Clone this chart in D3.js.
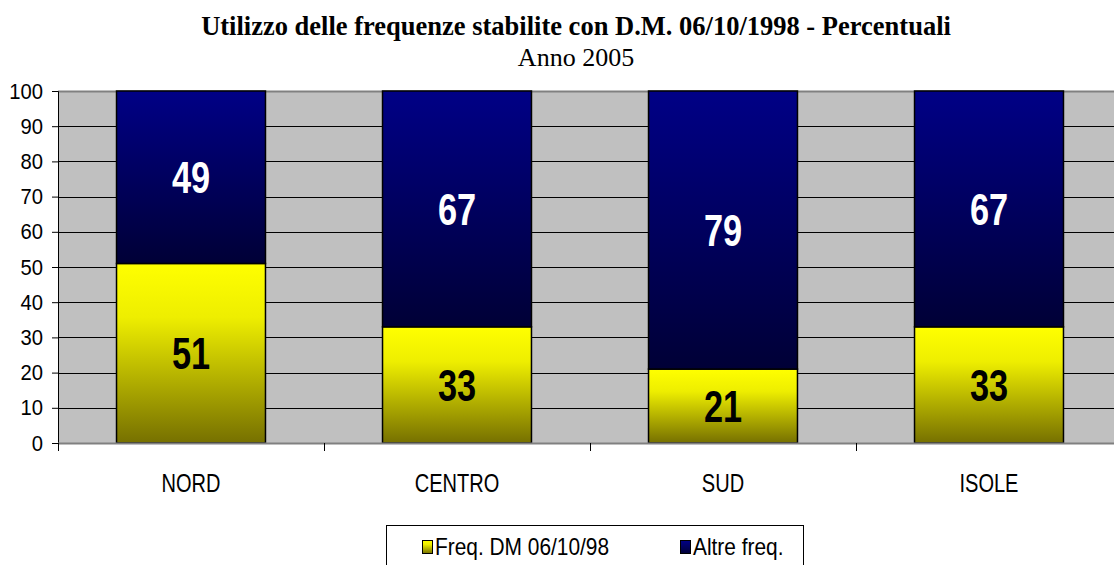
<!DOCTYPE html>
<html>
<head>
<meta charset="utf-8">
<script src="https://cdn.jsdelivr.net/npm/d3@7"></script>
<style>
  body { margin: 0; background: #fff; }
  svg { display: block; }
</style>
</head>
<body>
<figure style="margin:0"></figure>
<script>
// data
const categories = ["NORD", "CENTRO", "SUD", "ISOLE"]
const seriesNames = ["Freq. DM 06/10/98", "Altre freq."]
const freqDM = [51, 33, 21, 33]
const altreFreq = [49, 67, 79, 67]
const yTicks = [0, 10, 20, 30, 40, 50, 60, 70, 80, 90, 100]

const svgWidth = 1114
const svgHeight = 565
const margin = { left: 58, top: 91, right: -8, bottom: 122 }
const width = svgWidth - margin.left - margin.right
const height = svgHeight - margin.top - margin.bottom

const sans = "'Liberation Sans', Arial, sans-serif"
const serif = "'Liberation Serif', 'Times New Roman', serif"

// the original uses a condensed face, so squeeze text horizontally
function squish(sel, k, px, py) {
  sel.attr('transform', (d, i) => `translate(${px(d, i)},${py(d, i)}) scale(${k},1)`)
}

const svg = d3.select('figure')
  .append('svg')
  .attr('width', svgWidth)
  .attr('height', svgHeight)

// gradients
const defs = svg.append('defs')
const gradYellow = defs.append('linearGradient').attr('id', 'gYellow')
  .attr('x1', 0).attr('y1', 0).attr('x2', 0).attr('y2', 1)
gradYellow.append('stop').attr('offset', '0%').attr('stop-color', '#ffff00')
gradYellow.append('stop').attr('offset', '30%').attr('stop-color', '#eeee00')
gradYellow.append('stop').attr('offset', '100%').attr('stop-color', '#767000')
const gradBlue = defs.append('linearGradient').attr('id', 'gBlue')
  .attr('x1', 0).attr('y1', 0).attr('x2', 0).attr('y2', 1)
gradBlue.append('stop').attr('offset', '0%').attr('stop-color', '#000086')
gradBlue.append('stop').attr('offset', '100%').attr('stop-color', '#000036')

const g = svg.append('g')
  .attr('transform', `translate(${margin.left},${margin.top})`)

// scales
const x = d3.scaleBand()
  .domain(categories)
  .range([0, width])
  .paddingInner(0.44)
  .paddingOuter(0.22)
const xBand = d3.scaleBand().domain(categories).range([0, width])
const y = d3.scaleLinear().domain([0, 100]).range([height, 0])

// plot background
g.append('rect')
  .attr('width', width).attr('height', height)
  .attr('fill', '#c0c0c0')

// gridlines
g.append('g')
  .selectAll('line')
  .data(yTicks.slice(1))
  .enter().append('line')
  .attr('x1', 0).attr('x2', width)
  .attr('y1', d => Math.round(y(d)) + 0.5).attr('y2', d => Math.round(y(d)) + 0.5)
  .attr('stroke', d => d === 100 ? '#808080' : '#000')
  .attr('stroke-width', d => d === 100 ? 2 : 1)

// stacked bars
const rows = categories.map((c, i) => ({ cat: c, a: freqDM[i], b: altreFreq[i] }))
const stacked = d3.stack().keys(['a', 'b'])(rows)
const fills = ['url(#gYellow)', 'url(#gBlue)']
const labelColors = ['#000', '#fff']

const layers = g.append('g')
  .selectAll('g')
  .data(stacked)
  .enter().append('g')
  .attr('fill', (d, i) => fills[i])

layers.selectAll('rect')
  .data(d => d)
  .enter().append('rect')
  .attr('x', d => x(d.data.cat))
  .attr('y', d => y(d[1]))
  .attr('width', x.bandwidth())
  .attr('height', d => y(d[0]) - y(d[1]))
  .attr('stroke', '#000')
  .attr('stroke-width', 1.5)

// value labels
stacked.forEach((layer, li) => {
  g.append('g')
    .selectAll('text')
    .data(layer)
    .enter().append('text')
    .call(squish, 0.78,
      d => x(d.data.cat) + x.bandwidth() / 2,
      d => y((d[0] + d[1]) / 2))
    .attr('dy', '0.36em')
    .attr('text-anchor', 'middle')
    .style('font-family', sans)
    .style('font-weight', 'bold')
    .style('font-size', '44px')
    .style('fill', labelColors[li])
    .text(d => d[1] - d[0])
})

// y axis
const yAxis = g.append('g')
  .call(d3.axisLeft(y).tickValues(yTicks).tickSize(6).tickPadding(9))
yAxis.select('.domain').attr('stroke', '#000')
yAxis.selectAll('text')
  .attr('x', -15 / 0.92)
  .attr('transform', 'scale(0.92,1)')
  .style('font-family', sans)
  .style('font-size', '22px')
  .style('fill', '#000')

// x axis
const xAxisG = g.append('g').attr('transform', `translate(0,${height})`)
xAxisG.append('line')
  .attr('x1', 0).attr('x2', width)
  .attr('y1', 0.5).attr('y2', 0.5)
  .attr('stroke', '#808080').attr('stroke-width', 2)
xAxisG.selectAll('.tk')
  .data(categories)
  .enter().append('line')
  .attr('x1', d => Math.round(xBand(d)) + 0.5).attr('x2', d => Math.round(xBand(d)) + 0.5)
  .attr('y1', 0).attr('y2', 8)
  .attr('stroke', '#000')
xAxisG.selectAll('.lbl')
  .data(categories)
  .enter().append('text')
  .call(squish, 0.77, d => xBand(d) + xBand.bandwidth() / 2, () => 49)
  .attr('text-anchor', 'middle')
  .style('font-family', sans)
  .style('font-size', '26px')
  .text(d => d)

// title
svg.append('text')
  .attr('x', 576).attr('y', 35)
  .attr('text-anchor', 'middle')
  .style('font-family', serif)
  .style('font-weight', 'bold')
  .style('font-size', '26.5px')
  .text('Utilizzo delle frequenze stabilite con D.M. 06/10/1998 - Percentuali')
svg.append('text')
  .attr('x', 576).attr('y', 66)
  .attr('text-anchor', 'middle')
  .style('font-family', serif)
  .style('font-size', '26px')
  .text('Anno 2005')

// legend
const legend = svg.append('g').attr('transform', 'translate(386,525)')
legend.append('rect')
  .attr('x', 0.5).attr('y', 0.5)
  .attr('width', 417).attr('height', 45)
  .attr('fill', '#fff').attr('stroke', '#000')
const legendX = [36, 294]
seriesNames.forEach((name, i) => {
  legend.append('rect')
    .attr('x', legendX[i] + 0.5).attr('y', 15.5)
    .attr('width', 10).attr('height', 13)
    .attr('fill', fills[i]).attr('stroke', '#000')
  legend.append('text')
    .datum(name)
    .call(squish, 0.87, () => legendX[i] + 13, () => 30)
    .style('font-family', sans)
    .style('font-size', '24px')
    .text(name)
})
</script>
</body>
</html>
